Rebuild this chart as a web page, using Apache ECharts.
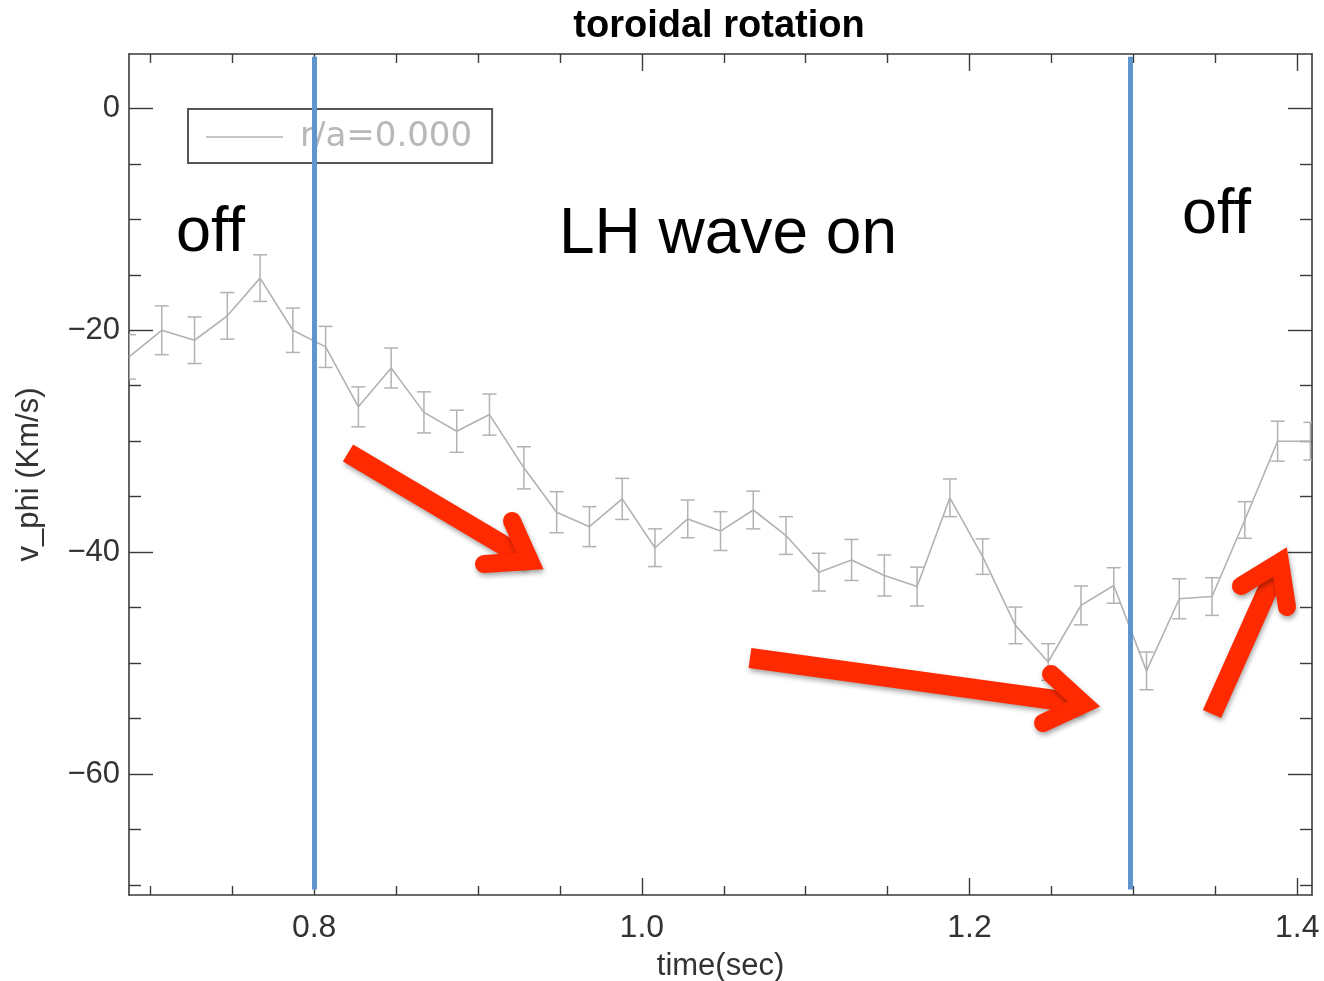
<!DOCTYPE html>
<html><head><meta charset="utf-8">
<script src="https://cdn.jsdelivr.net/npm/echarts@6/dist/echarts.min.js"></script>
<style>html,body{margin:0;padding:0;background:#fff}#c{width:1324px;height:981px}</style>
</head><body><div id="c"></div>
<script>
// ---- data ----
const times = [0.687,0.707,0.727,0.747,0.767,0.787,0.807,0.827,0.847,0.867,0.887,0.907,
  0.928,0.948,0.968,0.988,1.008,1.028,1.048,1.068,1.088,1.108,1.128,1.148,1.168,1.188,
  1.208,1.228,1.248,1.268,1.288,1.308,1.328,1.348,1.368,1.388,1.408];
const vphi = [-22.4,-20.0,-20.9,-18.7,-15.3,-20.0,-21.5,-26.9,-23.4,-27.4,-29.1,-27.6,
  -32.4,-36.4,-37.7,-35.2,-39.6,-37.0,-38.1,-36.2,-38.5,-41.8,-40.7,-42.1,-43.1,-35.1,
  -40.4,-46.6,-49.9,-44.8,-43.0,-50.7,-44.2,-44.0,-37.1,-30.0,-30.0];
const vphiErr = [2.0,2.2,2.1,2.1,2.1,2.0,1.85,1.8,1.8,1.85,1.9,1.85,
  1.9,1.85,1.8,1.85,1.7,1.7,1.75,1.7,1.7,1.7,1.85,1.85,1.75,1.7,
  1.6,1.65,1.65,1.75,1.6,1.7,1.8,1.7,1.65,1.8,1.7];
const xMajorTicks = [0.8, 1.0, 1.2, 1.4];
const xMinorTicks = [0.70,0.75,0.85,0.90,0.95,1.05,1.10,1.15,1.25,1.30,1.35];
const yMajorTicks = [0, -20, -40, -60];
const yMinorTicks = [-5,-10,-15,-25,-30,-35,-45,-50,-55,-65,-70];
const lhSwitchTimes = [0.8, 1.298];
const seriesName = 'r/a=0.000';
const titleText = 'toroidal rotation';
const xName = 'time(sec)';
const yName = 'v_phi (Km/s)';

// ---- layout / style ----
const X_MIN = 0.687, X_MAX = 1.409, Y_MIN = -70.9, Y_MAX = 4.9;
const AX = '#3a3a3a';
const GRAY = '#b2b2b2';
const LBL = {color:'#333', fontSize:32, fontFamily:'Liberation Sans, Arial, sans-serif'};

function xAxisDef(pos, ticks, len, showLine, labels) {
  return {
    type:'value', position:pos, min:X_MIN, max:X_MAX, splitLine:{show:false},
    axisLine:{show:showLine, onZero:false, lineStyle:{color:AX, width:1.6}},
    axisTick:{show:true, inside:true, length:len, customValues:ticks, lineStyle:{color:AX, width:1.4}},
    axisLabel: labels ? Object.assign({show:true, customValues:ticks, margin:17,
        formatter:v=>v.toFixed(1)}, LBL) : {show:false},
    name: labels ? xName : '', nameLocation:'middle', nameGap:56,
    nameTextStyle:Object.assign({}, LBL, {fontSize:31})
  };
}
function yAxisDef(pos, ticks, len, showLine, labels) {
  return {
    type:'value', position:pos, min:Y_MIN, max:Y_MAX, splitLine:{show:false},
    axisLine:{show:showLine, onZero:false, lineStyle:{color:AX, width:1.6}},
    axisTick:{show:true, inside:true, length:len, customValues:ticks, lineStyle:{color:AX, width:1.4}},
    axisLabel: labels ? Object.assign({show:true, customValues:ticks, margin:9,
        formatter:v=> v === 0 ? '0' : '\u2212' + Math.abs(v)}, LBL, {fontSize:31}) : {show:false},
    name: labels ? yName : '', nameLocation:'middle', nameGap:84,
    nameTextStyle:Object.assign({}, LBL, {fontSize:31})
  };
}

const lineData = times.map((t,i)=>[t, vphi[i]]);
const errData = times.map((t,i)=>[t, vphi[i]-vphiErr[i], vphi[i]+vphiErr[i]]);

const chart = echarts.init(document.getElementById('c'), null, {renderer:'canvas'});
chart.setOption({
  animation:false,
  backgroundColor:'#fff',
  title:{text:titleText, left:714, textAlign:'center', top:3,
    textStyle:{fontSize:38, fontWeight:'bold', color:'#000', fontFamily:'Liberation Sans, Arial, sans-serif'}},
  grid:{left:129, right:12, top:54, bottom:86, containLabel:false, outerBoundsMode:'none'},
  legend:{
    data:[{name:seriesName, icon:'rect'}], left:188, top:109, z:3,
    orient:'horizontal', itemWidth:77, itemHeight:1.6,
    padding:[11,20,9,18], borderColor:'#555', borderWidth:2, borderRadius:0,
    backgroundColor:'rgba(255,255,255,0)',
    selectedMode:false,
    textStyle:{color:'#b8b8b8', fontSize:34, fontFamily:'DejaVu Sans, sans-serif',
      padding:[5,0,0,12]}
  },
  xAxis:[
    xAxisDef('bottom', xMajorTicks, 17, true, true),
    xAxisDef('bottom', xMinorTicks, 9, false, false),
    xAxisDef('top', xMajorTicks, 17, true, false),
    xAxisDef('top', xMinorTicks, 9, false, false)
  ],
  yAxis:[
    yAxisDef('left', yMajorTicks, 24, true, true),
    yAxisDef('left', yMinorTicks, 12, false, false),
    yAxisDef('right', yMajorTicks, 24, true, false),
    yAxisDef('right', yMinorTicks, 12, false, false)
  ],
  series:[
    {
      name:seriesName, type:'line', xAxisIndex:0, yAxisIndex:0, data:lineData,
      showSymbol:false, symbol:'none', clip:true, z:2,
      lineStyle:{color:GRAY, width:1.6}, itemStyle:{color:GRAY}
    },
    {
      name:'err', type:'custom', xAxisIndex:0, yAxisIndex:0, data:errData, clip:true, z:2,
      encode:{x:0, y:[1,2]},
      renderItem:function(params, api){
        const x = api.value(0);
        const lo = api.coord([x, api.value(1)]);
        const hi = api.coord([x, api.value(2)]);
        const hw = 7;
        const st = {stroke:GRAY, lineWidth:1.5};
        return {type:'group', children:[
          {type:'line', shape:{x1:hi[0], y1:hi[1], x2:lo[0], y2:lo[1]}, style:st},
          {type:'line', shape:{x1:hi[0]-hw, y1:hi[1], x2:hi[0]+hw, y2:hi[1]}, style:st},
          {type:'line', shape:{x1:lo[0]-hw, y1:lo[1], x2:lo[0]+hw, y2:lo[1]}, style:st}
        ]};
      }
    },
    {
      name:'LH switch', type:'line', xAxisIndex:0, yAxisIndex:0, data:[], z:6,
      markLine:{
        silent:true, symbol:['none','none'], z:6, label:{show:false},
        lineStyle:{color:'#5f95cc', width:5, type:'solid'},
        data: lhSwitchTimes.map(t=>[{coord:[t, 4.65]}, {coord:[t, -70.4]}])
      }
    }
  ]
});

// ---- overlay annotations (text + arrows) ----
const RED = '#ff2a00';
const arrowShadow = {shadowBlur:5, shadowColor:'rgba(0,0,0,0.35)', shadowOffsetX:1, shadowOffsetY:3};
const arrows = [
  {start:[348,453], vertex:[530,561], arms:[[512,521],[484,564]]},
  {start:[750,658], vertex:[1084,704], arms:[[1051,674],[1043,723]]},
  {start:[1212,714], vertex:[1280,562], arms:[[1241,586],[1287,607]]}
];
const arrowEls = [];
arrows.forEach(a=>{
  arrowEls.push({type:'polyline', z:100, shape:{points:[a.start, a.vertex]},
    style:Object.assign({stroke:RED, lineWidth:20, lineCap:'butt', fill:null}, arrowShadow)});
  arrowEls.push({type:'polyline', z:101, shape:{points:[a.arms[0], a.vertex, a.arms[1]]},
    style:Object.assign({stroke:RED, lineWidth:18, lineCap:'round', lineJoin:'miter', miterLimit:20, fill:null}, arrowShadow)});
});
const TXT = 'Liberation Sans, Arial, sans-serif';
chart.setOption({
  graphic:[
    {type:'text', x:176, y:234, z:90, style:{text:'off', fontSize:63, fontFamily:TXT, fill:'#000', align:'left', verticalAlign:'middle'}},
    {type:'text', x:559, y:235, z:90, style:{text:'LH wave on', fontSize:64, fontFamily:TXT, fill:'#000', align:'left', verticalAlign:'middle'}},
    {type:'text', x:1182, y:216, z:90, style:{text:'off', fontSize:63, fontFamily:TXT, fill:'#000', align:'left', verticalAlign:'middle'}}
  ].concat(arrowEls)
});
</script></body></html>
